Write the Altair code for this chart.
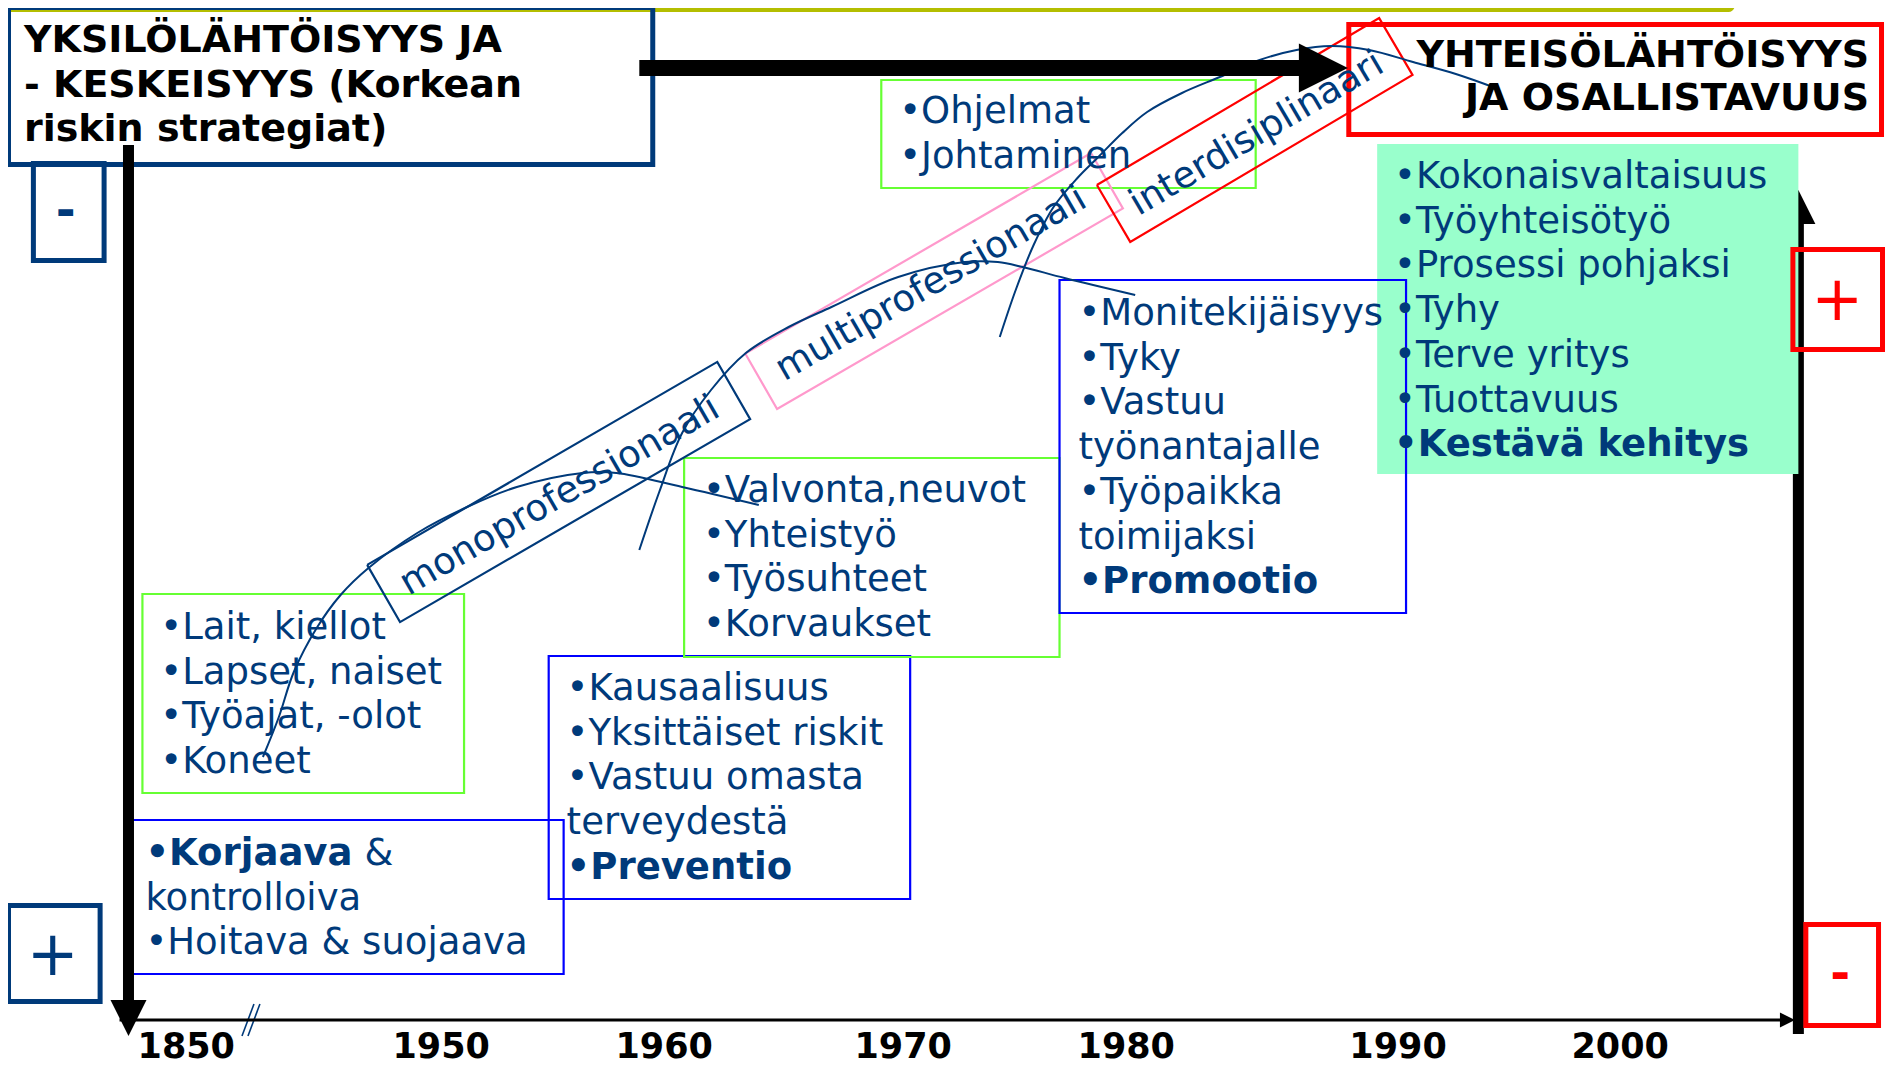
import math
import altair as alt
import pandas as pd

# ---------------- colours / fonts ----------------
NAVY = "#003A7A"
GREEN = "#66FF33"
BLUE = "#0000FF"
RED = "#FF0000"
PINK = "#FF99CC"
MINT = "#99FFCC"
OLIVE = "#B4BE00"
FONT = "DejaVu Sans"

# ---------------- text content ----------------
title_left = ["YKSILÖLÄHTÖISYYS JA", "- KESKEISYYS (Korkean", "riskin strategiat)"]
title_right = ["YHTEISÖLÄHTÖISYYS", "JA OSALLISTAVUUS"]
years = ["1850", "1950", "1960", "1970", "1980", "1990", "2000"]
box_lait = ["•Lait, kiellot", "•Lapset, naiset", "•Työajat, -olot", "•Koneet"]
box_korjaava = ["•Korjaava", "kontrolloiva", "•Hoitava & suojaava"]
korjaava_tail = "&"
box_kausaali = ["•Kausaalisuus", "•Yksittäiset riskit", "•Vastuu omasta", "terveydestä", "•Preventio"]
box_valvonta = ["•Valvonta,neuvot", "•Yhteistyö", "•Työsuhteet", "•Korvaukset"]
box_moni = ["•Monitekijäisyys", "•Tyky", "•Vastuu", "työnantajalle", "•Työpaikka", "toimijaksi", "•Promootio"]
box_ohjelmat = ["•Ohjelmat", "•Johtaminen"]
box_koko = ["•Kokonaisvaltaisuus", "•Työyhteisötyö", "•Prosessi pohjaksi", "•Tyhy",
            "•Terve yritys", "•Tuottavuus", "•Kestävä kehitys"]
bold_lines = ["•Korjaava", "•Preventio", "•Promootio", "•Kestävä kehitys"]
stages = ["monoprofessionaali", "multiprofessionaali", "interdisiplinaari"]
signs = ["-", "+", "+", "-"]

# ---------------- layout (reference pixel space) ----------------
X0, X1, Y0, Y1 = 6, 1891, 8, 1065
W, H = 1877, 1057
LINE = 44.7

text_boxes = [
    (box_lait, (141, 464, 594, 793), GREEN, 159, 628),
    (box_korjaava, (126, 564, 820, 974), BLUE, 144, 854),
    (box_kausaali, (549, 912, 656, 899), BLUE, 567, 689),
    (box_valvonta, (685, 1062, 458, 657), GREEN, 704, 491),
    (box_moni, (1062, 1410, 280, 613), BLUE, 1081, 314),
    (box_ohjelmat, (883, 1259, 80, 188), GREEN, 901, 112),
    (box_koko, (1381, 1804, 144, 474), None, 1398, 177),
]
frame_boxes = [
    ((4, 656, 5, 167), NAVY, 5),
    ((1350, 1890, 22, 137), RED, 5),
    ((29, 105, 161, 263), NAVY, 5),
    ((4, 101, 903, 1004), NAVY, 5),
    ((1796, 1891, 247, 352), RED, 5),
    ((1809, 1887, 922, 1028), RED, 5),
]
sign_pos = [(64, 212, NAVY), (51, 956, NAVY), (1843, 301, RED), (1846, 975, RED)]
year_pos = [(185, 1047), (441, 1047), (665, 1047), (905, 1047), (1129, 1047), (1402, 1047), (1625, 1047)]
stage_geom = [  # centre, length, height, angle, colour, text centre
    ((559, 492), 406, 66, 30.0, NAVY, (560, 496)),
    ((936, 281), 401, 64, 30.0, PINK, (933, 284)),
    ((1258, 130), 329, 66, 30.5, RED, (1260, 134)),
]
curves = [
    [(262, 757), (278, 717), (293, 672), (316, 628), (340, 595), (368, 568), (417, 533),
     (467, 507), (517, 487), (583, 473), (617, 473), (683, 487), (760, 505)],
    [(640, 550), (660, 492), (683, 433), (712, 390), (747, 353), (790, 327), (833, 307),
     (900, 277), (967, 262), (1000, 262), (1025, 267), (1067, 278), (1138, 295)],
    [(1002, 337), (1018, 290), (1036, 245), (1056, 207), (1080, 178), (1100, 158), (1125, 133),
     (1150, 112), (1185, 93), (1223, 77), (1263, 60), (1300, 50), (1335, 46), (1373, 50),
     (1417, 62), (1460, 74), (1500, 88)],
]

xs = alt.Scale(domain=[X0, X1], nice=False, zero=False)
ys = alt.Scale(domain=[Y0, Y1], reverse=True, nice=False, zero=False)


def X(f="x"):
    return alt.X(f"{f}:Q", scale=xs, axis=None)


def Y(f="y"):
    return alt.Y(f"{f}:Q", scale=ys, axis=None)


layers = []

# olive strip at top
olive = pd.DataFrame([dict(x=0, x2=1740, y=0, y2=12)])
layers.append(alt.Chart(olive).mark_rect(color=OLIVE, cornerRadiusBottomRight=10).encode(
    x=X(), x2="x2:Q", y=Y(), y2="y2:Q"))

# right vertical axis with its arrowhead (below the mint box)
rules_back = pd.DataFrame([dict(x=1804, y=222, x2=1804, y2=1034, sw=11)])
layers.append(alt.Chart(rules_back).mark_rule(color="black", strokeCap="butt").encode(
    x=X(), y=Y(), x2="x2:Q", y2="y2:Q", strokeWidth=alt.StrokeWidth("sw:Q", scale=None)))
heads_back = pd.DataFrame([dict(x=1804, y=207, s=34 ** 2, a=270)])
ARROW = "M-1,-1L1,0L-1,1Z"
layers.append(alt.Chart(heads_back).mark_point(shape=ARROW, filled=True, color="black", opacity=1,
                                               strokeWidth=0).encode(
    x=X(), y=Y(), size=alt.Size("s:Q", scale=None), angle=alt.Angle("a:Q", scale=None)))

# mint filled box
mint = pd.DataFrame([dict(x=b[1][0], x2=b[1][1], y=b[1][2], y2=b[1][3]) for b in text_boxes if b[2] is None])
layers.append(alt.Chart(mint).mark_rect(color=MINT).encode(x=X(), x2="x2:Q", y=Y(), y2="y2:Q"))

# outlined boxes
rect_rows = []
for lines, (a, b, c, d), col, tx, ty in text_boxes:
    if col is not None:
        rect_rows.append(dict(x=a, x2=b, y=c, y2=d, stroke=col, sw=2.2))
for (a, b, c, d), col, sw in frame_boxes:
    rect_rows.append(dict(x=a + sw / 2, x2=b - sw / 2, y=c + sw / 2, y2=d - sw / 2, stroke=col, sw=sw))
layers.append(alt.Chart(pd.DataFrame(rect_rows)).mark_rect(fillOpacity=0).encode(
    x=X(), x2="x2:Q", y=Y(), y2="y2:Q",
    stroke=alt.Stroke("stroke:N", scale=None),
    strokeWidth=alt.StrokeWidth("sw:Q", scale=None)))

# rotated stage boxes
poly_rows = []
for k, ((cx, cy), L, h, ang, col, _) in enumerate(stage_geom):
    r = math.radians(ang)
    u = (math.cos(r), -math.sin(r))
    v = (math.sin(r), math.cos(r))
    corners = [(-1, -1), (1, -1), (1, 1), (-1, 1), (-1, -1)]
    for i, (p, q) in enumerate(corners):
        poly_rows.append(dict(pid=k, i=i, col=col,
                              x=cx + p * u[0] * L / 2 + q * v[0] * h / 2,
                              y=cy + p * u[1] * L / 2 + q * v[1] * h / 2))
layers.append(alt.Chart(pd.DataFrame(poly_rows)).mark_line(strokeWidth=2.2, strokeJoin="miter").encode(
    x=X(), y=Y(), detail="pid:N", order="i:Q", color=alt.Color("col:N", scale=None)))

# curves
curve_rows = []
for k, pts in enumerate(curves):
    for i, (px, py) in enumerate(pts):
        curve_rows.append(dict(cid=k, i=i, x=px, y=py))
layers.append(alt.Chart(pd.DataFrame(curve_rows)).mark_line(
    color=NAVY, strokeWidth=2, interpolate="catmull-rom").encode(
    x=X(), y=Y(), detail="cid:N", order="i:Q"))

# axis break marks //
brk = pd.DataFrame([dict(x=241, y=1036, x2=253, y2=1004), dict(x=247, y=1036, x2=259, y2=1004)])
layers.append(alt.Chart(brk).mark_rule(color=NAVY, strokeWidth=1.6).encode(
    x=X(), y=Y(), x2="x2:Q", y2="y2:Q"))

# black axes and top arrow
rules_front = pd.DataFrame([
    dict(x=127, y=145, x2=127, y2=1002, sw=11),
    dict(x=118, y=1020, x2=1790, y2=1020, sw=3),
    dict(x=640, y=68, x2=1305, y2=68, sw=16),
])
layers.append(alt.Chart(rules_front).mark_rule(color="black", strokeCap="butt").encode(
    x=X(), y=Y(), x2="x2:Q", y2="y2:Q", strokeWidth=alt.StrokeWidth("sw:Q", scale=None)))
heads_front = pd.DataFrame([
    dict(x=127, y=1018, s=36 ** 2, a=90),
    dict(x=1793, y=1020, s=15 ** 2, a=0),
    dict(x=1327, y=68, s=49 ** 2, a=0),
])
layers.append(alt.Chart(heads_front).mark_point(shape=ARROW, filled=True, color="black", opacity=1,
                                                strokeWidth=0).encode(
    x=X(), y=Y(), size=alt.Size("s:Q", scale=None), angle=alt.Angle("a:Q", scale=None)))

# stage labels
stage_rows = [dict(x=g[5][0], y=g[5][1], t=t, a=360 - g[3]) for t, g in zip(stages, stage_geom)]
layers.append(alt.Chart(pd.DataFrame(stage_rows)).mark_text(
    align="center", baseline="middle", font=FONT, fontSize=37, color=NAVY).encode(
    x=X(), y=Y(), text="t:N", angle=alt.Angle("a:Q", scale=None)))

# box texts
reg_rows, bold_rows = [], []
for lines, rect, col, tx, ty in text_boxes:
    for i, t in enumerate(lines):
        row = dict(x=tx, y=ty + i * LINE, t=t)
        (bold_rows if t in bold_lines else reg_rows).append(row)
reg_rows.append(dict(x=364, y=854, t=korjaava_tail))
layers.append(alt.Chart(pd.DataFrame(reg_rows)).mark_text(
    align="left", baseline="middle", font=FONT, fontSize=37, color=NAVY).encode(
    x=X(), y=Y(), text="t:N"))
layers.append(alt.Chart(pd.DataFrame(bold_rows)).mark_text(
    align="left", baseline="middle", font=FONT, fontSize=37, fontWeight="bold", color=NAVY).encode(
    x=X(), y=Y(), text="t:N"))

# titles
tl = pd.DataFrame([dict(x=22, y=41 + i * 44.5, t=t) for i, t in enumerate(title_left)])
layers.append(alt.Chart(tl).mark_text(
    align="left", baseline="middle", font=FONT, fontSize=38, fontWeight="bold", color="black").encode(
    x=X(), y=Y(), text="t:N"))
tr = pd.DataFrame([dict(x=1875, y=56 + i * 43, t=t) for i, t in enumerate(title_right)])
layers.append(alt.Chart(tr).mark_text(
    align="right", baseline="middle", font=FONT, fontSize=38, fontWeight="bold", color="black").encode(
    x=X(), y=Y(), text="t:N"))

# years
yr = pd.DataFrame([dict(x=p[0], y=p[1], t=t) for t, p in zip(years, year_pos)])
layers.append(alt.Chart(yr).mark_text(
    align="center", baseline="middle", font=FONT, fontSize=35, fontWeight="bold", color="black").encode(
    x=X(), y=Y(), text="t:N"))

# +/- signs
minus = pd.DataFrame([dict(x=p[0], y=p[1], t=s, col=p[2]) for s, p in zip(signs, sign_pos) if s == "-"])
plus = pd.DataFrame([dict(x=p[0], y=p[1], t=s, col=p[2]) for s, p in zip(signs, sign_pos) if s == "+"])
layers.append(alt.Chart(minus).mark_text(
    align="center", baseline="middle", font=FONT, fontSize=48, fontWeight="bold").encode(
    x=X(), y=Y(), text="t:N", color=alt.Color("col:N", scale=None)))
layers.append(alt.Chart(plus).mark_text(
    align="center", baseline="middle", font=FONT, fontSize=62).encode(
    x=X(), y=Y(), text="t:N", color=alt.Color("col:N", scale=None)))

chart = alt.layer(*layers).properties(
    width=W, height=H, padding=0,
    autosize=alt.AutoSizeParams(type="none"),
    background="white",
).configure_view(stroke=None)

chart.save("out.html", embed_options={"renderer": "svg", "actions": False})
